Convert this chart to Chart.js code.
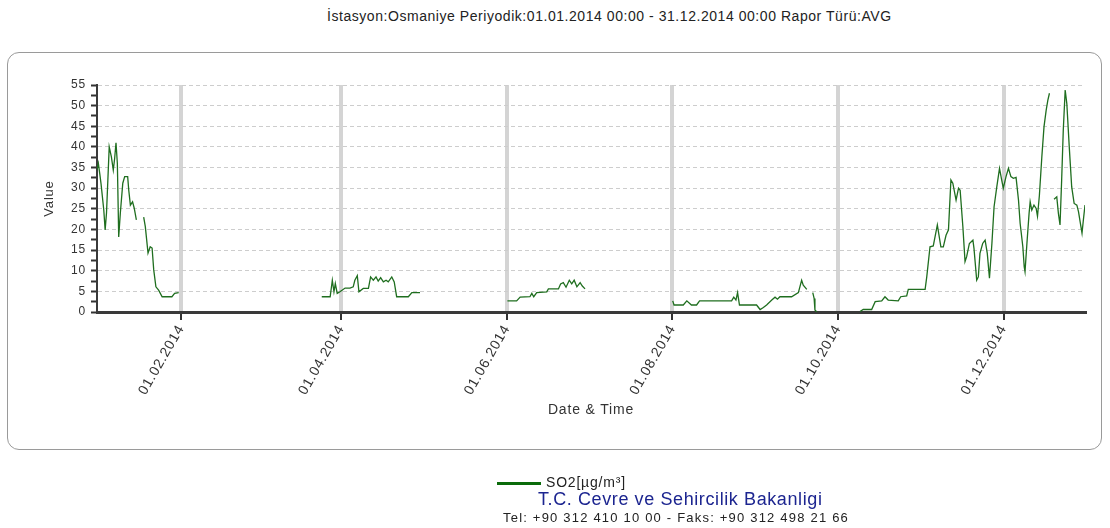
<!DOCTYPE html>
<html>
<head>
<meta charset="utf-8">
<script src="https://cdn.jsdelivr.net/npm/chart.js@4"></script>
<style>
  body { margin: 0; background: #fff; font-family: "Liberation Sans", Arial, sans-serif; }
  #wrap { position: relative; width: 1110px; height: 528px; overflow: hidden; }
  #title { position: absolute; top: 8px; left: 327px; white-space: nowrap; font-size: 14px; letter-spacing: 0.55px; color: #222; }
  #box { position: absolute; left: 7px; top: 52px; width: 1095px; height: 398px; border: 1px solid #9a9a9a; border-radius: 12px; box-sizing: border-box; }
  #myChart { position: absolute; left: 0; top: 0; }
  #legend { position: absolute; left: 497px; top: 474px; font-size: 14px; letter-spacing: 0.8px; color: #222; }
  #legend span.swatch { display: inline-block; width: 44px; height: 3px; vertical-align: middle; margin-right: 5px; }
  #org { position: absolute; top: 489px; left: 538px; font-size: 18px; letter-spacing: 0.6px; color: #1c2590; white-space: nowrap; }
  #tel { position: absolute; top: 510px; left: 503px; font-size: 13px; letter-spacing: 1.2px; color: #222; white-space: nowrap; }
</style>
</head>
<body>
<div id="wrap">
  <div id="title">İstasyon:Osmaniye Periyodik:01.01.2014 00:00 - 31.12.2014 00:00 Rapor Türü:AVG</div>
  <div id="box"></div>
  <canvas id="myChart" width="1110" height="528"></canvas>
  <div id="legend"></div>
  <div id="org">T.C. Cevre ve Sehircilik Bakanligi</div>
  <div id="tel">Tel: +90 312 410 10 00 - Faks: +90 312 498 21 66</div>
</div>
<script>
// day of year (0 = 01.01.2014), null value = no data
const days = [
  0, 0.5, 1, 1.5, 2.5, 3, 3.5, 4.5, 5.3, 6, 6.5, 7, 7.5, 8, 8.6, 9.5, 10.2, 11.3, 11.7, 12.3, 13.1, 13.7, 14.5,
  15.5, 17.2, 17.8, 18.8, 19.6, 20.3, 20.9, 21.7, 22.7, 24, 27.6, 28.6, 30.1,
  50,
  82.8, 85.9, 86.7, 87.3, 87.8, 88.5, 89.5, 91.4, 93.2, 94.4, 95, 95.9, 96.5, 98.1, 100, 100.8, 101.8, 102.8,
  103.6, 104.5, 105.5, 106.5, 107.3, 108.6, 109.5, 110.4, 114.7, 116, 119,
  135,
  151.2, 154.6, 155.9, 159.5, 160.2, 160.9, 162, 165.7, 166.3, 170, 170.8, 171.8, 172.8, 174, 174.9, 175.8,
  176.8, 178, 178.8, 179.8,
  195,
  212.1, 212.6, 216, 217.3, 219, 220.9, 222, 233.8, 234.6, 235.4, 236, 236.7, 243, 244.3, 245.5, 246.7, 248.6,
  249.8, 250.7, 251.6, 255.9, 258.4, 259.6, 260.2, 261.5, 262.5, 263.7, 264.2, 264.5, 265.2,
  272,
  281.1, 282.3, 285.4, 286.7, 289.1, 290.3, 291.5, 295.2, 296.1, 298.3, 298.9, 305.1, 305.7, 306.9, 308.1,
  309.6, 310.9, 311.8, 312.8, 313.7, 314.6, 315.3, 316.5, 317.4, 318, 319, 319.8, 320.4, 321.4, 322.7, 323.1,
  324.1, 324.7, 325.3, 326.3, 327.2, 328, 328.8, 329.7, 330.5, 331.5, 332.5, 333.3, 333.9, 334.9, 335.8, 336.7,
  337.6, 338.6, 339.5, 340.1, 341.1, 341.6, 341.9, 342.6, 343.4, 343.8, 344.4, 345.2, 346, 346.5, 347.2, 348.1,
  348.9, 349.7, 350.3, 350.9, 351.7, 352.6, 353.6, 354.2, 354.8, 355.4, 356, 356.7, 357.3, 358.2, 359.1, 360,
  361, 361.6, 362.5, 362.9, 363.4, 364
];
const so2 = [
  34.4, 36, 33.6, 31, 24.7, 19.9, 24, 40, 37.6, 34.4, 37.2, 41, 36, 18.2, 24, 31.2, 32.8, 32.8, 29.5, 25.9, 26.7, 25.2, 22.3,
  null, 23, 20.7, 14.3, 15.8, 15.5, 10.2, 6.1, 5.3, 3.7, 3.7, 4.5, 4.7,
  null,
  3.7, 3.7, 7.7, 4.9, 6.9, 4.5, 4.9, 5.8, 5.8, 6.1, 7.7, 8.8, 4.9, 5.7, 5.7, 8.5, 7.7, 8.5,
  7.5, 8.3, 7.3, 7.7, 7.3, 8.5, 7.3, 3.7, 3.7, 4.7, 4.7,
  null,
  2.7, 2.7, 3.6, 3.7, 4.5, 3.7, 4.7, 4.9, 5.6, 5.6, 6.8, 7.1, 6, 7.7, 6.8, 7.7,
  6.1, 7.1, 6.3, 5.6,
  null,
  2.7, 1.7, 1.7, 2.7, 1.7, 1.7, 2.7, 2.7, 3.6, 2.9, 4.7, 1.7, 1.7, 0.6, 1.1, 1.7, 2.9,
  3.6, 3.1, 3.7, 3.7, 4.7, 7.7, 6.5, 5.5, null, 4.7, 3.3, 0.5, 0,
  null,
  0.1, 0.6, 0.6, 2.5, 2.7, 3.7, 2.9, 2.7, 3.7, 3.9, 5.5, 5.5, 8.5, 15.8, 16,
  21.1, 15.8, 15.8, 18.6, 19.9, 32, 31.2, 27.1, 30, 29.5, 20.7, 12.2, 13.4, 16.6, 17.4, 15.4,
  7.7, 8.5, 14.2, 16.6, 17.4, 14.2, 8.2, 16.6, 25.5, 30.3, 34.8, 32, 30, 32.8, 34.8, 32.8,
  32.4, 32.6, 27.1, 21.5, 15.8, 11, 9.8, 16.6, 23.9, 26.7, 24.7, 25.9, 25.1, 23.2, 28.3, 37.6,
  44.9, 48.9, 51.3, 53, null, 27.3, 27.9, 23.9, 21.1, 32, 44.1, 53.8, 50.5, 40, 30.3, 26.3,
  25.9, 24.3, 20.7, 19.1, 22.3, 25.9
];

const xTickDays = [31, 90, 151, 212, 273, 334];
const xTickLabels = ['01.02.2014', '01.04.2014', '01.06.2014', '01.08.2014', '01.10.2014', '01.12.2014'];
const yTicks = [0, 2.5, 5, 7.5, 10, 12.5, 15, 17.5, 20, 22.5, 25, 27.5, 30, 32.5, 35, 37.5, 40, 42.5, 45, 47.5, 50, 52.5, 55];

const seriesLabel = 'SO2[µg/m³]';
const lineColor = '#1f6e1f';
const fontFamily = '"Liberation Sans", Arial, sans-serif';

// the original text is a bit wider than Arial, spread it a little
const spacing = {
  id: 'spacing',
  beforeLayout: c => { c.ctx.letterSpacing = '0.8px'; },
  beforeDraw: c => { c.ctx.letterSpacing = '0.8px'; }
};

const ctx = document.getElementById('myChart').getContext('2d');
const myChart = new Chart(ctx, {
  type: 'line',
  data: {
    datasets: [{
      label: seriesLabel,
      data: days.map((d, i) => ({ x: d, y: so2[i] })),
      borderColor: lineColor,
      borderWidth: 1.3,
      pointRadius: 0,
      tension: 0,
      spanGaps: false
    }]
  },
  plugins: [spacing],
  options: {
    responsive: false,
    animation: false,
    layout: { padding: { left: 38, right: 25, top: 85, bottom: 108 } },
    plugins: { legend: { display: false }, tooltip: { enabled: false } },
    scales: {
      x: {
        type: 'linear',
        min: 0,
        max: 364,
        afterBuildTicks: s => { s.ticks = xTickDays.map(v => ({ value: v })); },
        afterFit: s => { s.height = 108; },
        ticks: {
          autoSkip: false,
          minRotation: 60,
          maxRotation: 60,
          padding: 2,
          color: '#333',
          font: { family: fontFamily, size: 14 },
          callback: (v, i) => xTickLabels[i]
        },
        grid: { color: '#d4d4d4', lineWidth: 4, tickColor: '#333', tickLength: 8, tickWidth: 2 },
        border: { color: '#3a3a3a', width: 3 },
        title: { display: true, text: 'Date & Time', color: '#333', font: { family: fontFamily, size: 14 }, padding: { top: 4, bottom: 1 } }
      },
      y: {
        min: 0,
        max: 55,
        afterBuildTicks: s => { s.ticks = yTicks.map(v => ({ value: v })); },
        afterFit: s => { s.width = 59; },
        ticks: {
          autoSkip: false,
          padding: 5,
          color: '#333',
          font: { family: fontFamily, size: 12 },
          callback: v => (v % 5 === 0 ? v : '')
        },
        grid: {
          color: c => (c.tick && c.tick.value % 5 === 0 && c.tick.value > 0 ? '#cdcdcd' : 'rgba(0,0,0,0)'),
          lineWidth: 1,
          tickColor: '#333',
          tickLength: 6,
          tickWidth: 2
        },
        border: { color: '#3a3a3a', width: 2, dash: [4, 3] },
        title: { display: true, text: 'Value', color: '#333', font: { family: fontFamily, size: 13 } }
      }
    }
  }
});

// legend below the box, built from the dataset
const ds = myChart.data.datasets[0];
document.getElementById('legend').innerHTML =
  '<span class="swatch" style="background:#0b6b0b"></span>' + ds.label;
</script>
</body>
</html>
